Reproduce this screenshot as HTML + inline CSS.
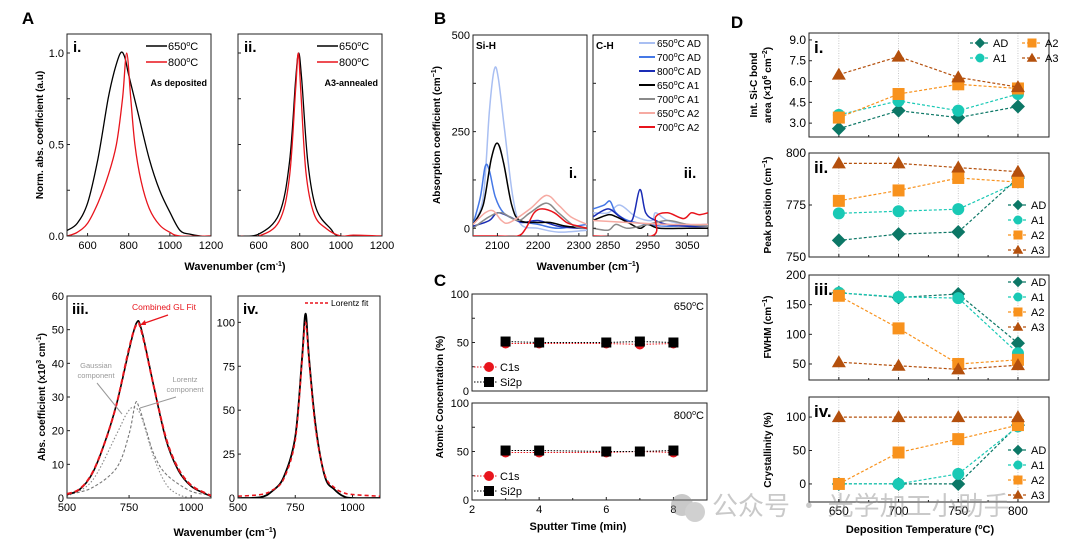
<!DOCTYPE html>
<html><head><meta charset="utf-8">
<style>
html,body{margin:0;padding:0;background:#fff;}
svg{display:block;font-family:"Liberation Sans","Noto Sans CJK SC",sans-serif;}
</style></head>
<body>
<svg id="fig" width="1080" height="547" viewBox="0 0 1080 547" xmlns="http://www.w3.org/2000/svg"></svg>
<script>
// ---------- DATA ----------
// Panel A i
const aiX650 = [500,550,600,650,700,730,760,780,800,850,900,950,1000,1050,1100,1150,1200];
const aiY650 = [0.03,0.07,0.18,0.42,0.75,0.9,1.0,0.98,0.88,0.65,0.42,0.25,0.13,0.03,0.01,0,0];
const aiX800 = [500,550,600,650,700,740,770,790,810,830,860,900,950,1000,1050,1200];
const aiY800 = [0,0.02,0.07,0.18,0.33,0.5,0.75,1.0,0.75,0.5,0.3,0.15,0.06,0.02,0,0];
// Panel A ii
const aiiX650 = [500,600,700,750,780,795,810,840,880,950,1000,1200];
const aiiY650 = [0,0.01,0.12,0.4,0.85,1.0,0.85,0.4,0.15,0.04,0,0];
const aiiX800 = [500,600,700,750,780,793,805,830,870,930,1000,1060,1200];
const aiiY800 = [0,0,0.08,0.32,0.8,1.0,0.8,0.35,0.12,0.04,0,0.005,0];
// Panel A iii
const aiiiX = [500,550,600,650,700,750,780,800,850,900,950,1000,1050,1080];
const aiiiData = [1,2.5,7,16,28,44,52,50,33,17,8,3.5,1.5,0.5];
const aiiiFit = [1.2,2.6,7.2,16,28,44.5,51.5,49.5,33,17.5,8.5,3.8,1.7,0.7];
const aiiiGX = [500,600,700,740,770,800,850,900,950,1000];
const aiiiGY = [0.5,5,19,25,27,24,12,4,1,0];
const aiiiLX = [500,600,700,750,775,790,820,850,900,1000,1080];
const aiiiLY = [1,3,9,19,28,27,20,13,7,2,1];
// Panel A iv
const aivX = [500,600,650,700,750,780,795,810,840,880,920,960,1000,1120];
const aivData = [0,0.5,4,12,35,80,105,80,40,12,5,1,0,0];
const aivFit = [1,2,4.5,11,33,78,100,78,38,13,6,3,2,1];
// Panel B
const bSeriesNames = ["650°C AD","700°C AD","800°C AD","650°C A1","700°C A1","650°C A2","700°C A2"];
const biX = [
 [2040,2065,2080,2092,2102,2118,2138,2158,2200,2250,2320],
 [2040,2058,2070,2080,2095,2115,2150,2200,2250,2320],
 [2040,2080,2100,2130,2160,2200,2250,2300,2320],
 [2040,2065,2085,2100,2115,2135,2155,2200,2230,2270,2320],
 [2040,2080,2110,2150,2180,2220,2250,2290,2320],
 [2040,2070,2090,2110,2130,2180,2220,2250,2280,2320],
 [2040,2100,2150,2170,2190,2210,2240,2270,2300,2320]];
const biY = [
 [10,80,300,410,390,250,80,10,0,-10,-5],
 [10,80,160,150,80,40,20,10,0,10],
 [5,20,40,30,15,20,5,0,0],
 [10,60,180,220,170,60,20,15,15,5,0],
 [0,30,40,20,40,65,40,5,0],
 [10,40,45,20,15,50,85,60,30,10],
 [-20,-20,-20,0,40,50,40,15,5,0]];
const biiX = [
 [2812,2850,2880,2920,2960,2970,3000,3050,3102],
 [2812,2840,2855,2870,2900,2950,3000,3102],
 [2812,2850,2880,2910,2930,2945,2970,3000,3050,3102],
 [2812,2850,2870,2900,2930,2950,2980,3050,3102],
 [2812,2850,2870,2900,2950,3000,3050,3102],
 [2812,2900,3000,3102],
 [2812,2960,2970,3000,3040,3060,3080,3102]];
const biiY = [
 [40,40,60,30,20,40,20,10,5],
 [50,60,70,40,20,10,5,10],
 [30,50,30,20,100,40,20,10,5,5],
 [20,35,30,15,0,10,0,0,0],
 [0,-5,10,0,10,20,10,5],
 [20,15,10,10],
 [-20,-20,30,40,25,40,35,40]];
// Panel C
const cTimes = [3,4,6,7,8];
const cC1s650 = [49,49,49,48,49];
const cSi2p650 = [51,50,50,51,50];
const cC1s800 = [49,49,49,50,49];
const cSi2p800 = [51,51,50,50,51];
// Panel D
const dTemps = [650,700,750,800];
const dSeries = ["AD","A1","A2","A3"];
const dArea = {AD:[2.6,3.9,3.4,4.2],A1:[3.6,4.6,3.9,5.1],A2:[3.4,5.1,5.8,5.5],A3:[6.5,7.8,6.3,5.6]};
const dPeak = {AD:[758,761,762,788],A1:[771,772,773,786],A2:[777,782,788,786],A3:[795,795,793,791]};
const dFwhm = {AD:[170,162,168,85],A1:[170,163,161,68],A2:[165,110,50,57],A3:[53,47,41,48]};
const dCryst = {AD:[0,0,0,88],A1:[0,0,15,86],A2:[0,47,67,88],A3:[100,100,100,100]};

// ---------- HELPERS ----------
const NS="http://www.w3.org/2000/svg";
const svg=document.getElementById('fig');
function mk(tag,attrs,parent){const e=document.createElementNS(NS,tag);for(const k in attrs)e.setAttribute(k,attrs[k]);(parent||svg).appendChild(e);return e;}
function txt(x,y,s,size,opts){opts=opts||{};const e=mk('text',{x:x,y:y,'font-size':size,'text-anchor':opts.anchor||'middle','font-weight':opts.bold?'bold':'normal',fill:opts.fill||'#000'},opts.parent);
 if(opts.rot) e.setAttribute('transform','rotate(-90 '+x+' '+y+')');
 e.innerHTML=s;return e;}
function scale(d0,d1,r0,r1){return v=>r0+(v-d0)/(d1-d0)*(r1-r0);}
function smoothPath(pts){if(pts.length<2)return'';let d='M'+pts[0][0].toFixed(1)+','+pts[0][1].toFixed(1);
 for(let i=0;i<pts.length-1;i++){const p0=pts[i-1]||pts[i],p1=pts[i],p2=pts[i+1],p3=pts[i+2]||p2;
  const c1=[p1[0]+(p2[0]-p0[0])/6,p1[1]+(p2[1]-p0[1])/6],c2=[p2[0]-(p3[0]-p1[0])/6,p2[1]-(p3[1]-p1[1])/6];
  d+=' C'+c1[0].toFixed(1)+','+c1[1].toFixed(1)+' '+c2[0].toFixed(1)+','+c2[1].toFixed(1)+' '+p2[0].toFixed(1)+','+p2[1].toFixed(1);}
 return d;}
function box(x0,y0,x1,y1,name){const r=mk('rect',{x:x0,y:y0,width:x1-x0,height:y1-y0,fill:'none',stroke:'#222','stroke-width':1});
 
 return r;}
function clip(id,x0,y0,x1,y1){const c=mk('clipPath',{id:id});mk('rect',{x:x0,y:y0,width:x1-x0,height:y1-y0},c);}
function curve(xs,ys,sx,sy,style,name,clipId){const pts=xs.map((x,i)=>[sx(x),sy(ys[i])]);
 const p=mk('path',Object.assign({d:smoothPath(pts),fill:'none'},style));if(clipId)p.setAttribute('clip-path','url(#'+clipId+')');
 
 return p;}
function xticks(vals,sx,yb,labels,size,name){vals.forEach((v,i)=>{mk('line',{x1:sx(v),x2:sx(v),y1:yb,y2:yb-3,stroke:'#222'});
 const t=txt(sx(v),yb+13,labels?labels[i]:v,size||11);});}
function yticks(vals,sy,xl,labels,size,name){vals.forEach((v,i)=>{mk('line',{x1:xl,x2:xl+3,y1:sy(v),y2:sy(v),stroke:'#222'});
 if(labels){const t=txt(xl-3,sy(v)+4,labels[i],size||11,{anchor:'end'});}});}

// ---------- PANEL LETTERS ----------
[['A',28,24],['B',440,24],['C',440,286],['D',737,28]].forEach(l=>{const t=txt(l[1],l[2],l[0],17,{bold:true});
 });

// ---------- PANEL A i / ii ----------
(function(){
 const y0=34,y1=236;
 const syA=v=>236-(v/1.0)*(236-53);
 [[67,211,'a-i'],[238,382,'a-ii']].forEach(([x0,x1,id],k)=>{
  const sx=scale(500,1200,x0,x1);clip(id,x0,y0,x1,y1);
  box(x0,y0,x1,y1,'panel-'+id+'-frame');
  if(k==0){curve(aiX650,aiY650,sx,syA,{stroke:'#000','stroke-width':1.3},'curve-650c',id);curve(aiX800,aiY800,sx,syA,{stroke:'#e8141c','stroke-width':1.3},'curve-800c',id);}
  else{curve(aiiX650,aiiY650,sx,syA,{stroke:'#000','stroke-width':1.3},'curve-650c',id);curve(aiiX800,aiiY800,sx,syA,{stroke:'#e8141c','stroke-width':1.3},'curve-800c',id);}
  xticks([600,800,1000,1200],sx,y1,null,11);
  yticks([0,0.5,1.0],syA,x0,k==0?['0.0','0.5','1.0']:null,11);
  yticks([0.25,0.75],syA,x0,null);
  txt(x0+6,y0+18,k==0?'i.':'ii.',15,{bold:true,anchor:'start'});
  mk('line',{x1:x0+79,x2:x0+100,y1:46,y2:46,stroke:'#000','stroke-width':1.5});
  txt(x0+101,50,'650<tspan dy="-4" font-size="7">o</tspan><tspan dy="4">C</tspan>',11,{anchor:'start'});
  mk('line',{x1:x0+79,x2:x0+100,y1:62,y2:62,stroke:'#e8141c','stroke-width':1.5});
  txt(x0+101,66,'800<tspan dy="-4" font-size="7">o</tspan><tspan dy="4">C</tspan>',11,{anchor:'start'});
  txt(x0+140,86,k==0?'As deposited':'A3-annealed',9,{bold:true,anchor:'end'});
 });
 const t=txt(43,135,'Norm. abs. coefficient (a.u)',10,{bold:true,rot:true});
 const t2=txt(235,270,'Wavenumber (cm<tspan dy="-4" font-size="7">-1</tspan><tspan dy="4">)</tspan>',11,{bold:true});
})();

// ---------- PANEL A iii / iv ----------
(function(){
 const y0=296,y1=498;
 let sx=scale(500,1080,67,211), sy=scale(0,60,y1,y0);clip('a3',67,y0,211,y1);
 box(67,y0,211,y1,'panel-a-iii-frame');
 curve(aiiiGX,aiiiGY,sx,sy,{stroke:'#888','stroke-width':1.1,'stroke-dasharray':'1.5,2'},'gaussian-component','a3');
 curve(aiiiLX,aiiiLY,sx,sy,{stroke:'#777','stroke-width':1.1,'stroke-dasharray':'3,2'},'lorentz-component','a3');
 curve(aiiiX,aiiiData,sx,sy,{stroke:'#000','stroke-width':1.6},'measured-spectrum','a3');
 curve(aiiiX,aiiiFit,sx,sy,{stroke:'#e8141c','stroke-width':2,'stroke-dasharray':'5,3'},'combined-gl-fit','a3');
 xticks([500,750,1000],sx,y1,null,11);
 yticks([0,10,20,30,40,50,60],sy,67,['0','10','20','30','40','50','60'],11);
 txt(72,314,'iii.',15,{bold:true,anchor:'start'});
 txt(164,310,'Combined GL Fit',8.5,{fill:'#e8141c'});
 mk('line',{x1:168,x2:142,y1:315,y2:324,stroke:'#e8141c','stroke-width':1.2});
 mk('path',{d:'M140,325 l5,-5 l1,5 z',fill:'#e8141c'});
 txt(96,368,'Gaussian',7.5,{fill:'#999'});txt(96,378,'component',7.5,{fill:'#999'});
 mk('line',{x1:97,x2:122,y1:383,y2:414,stroke:'#999'});
 txt(185,382,'Lorentz',7.5,{fill:'#999'});txt(185,392,'component',7.5,{fill:'#999'});
 mk('line',{x1:176,x2:140,y1:397,y2:408,stroke:'#999'});
 const t=txt(45,397,'Abs. coefficient (x10<tspan dy="-4" font-size="7">3</tspan><tspan dy="4"> cm</tspan><tspan dy="-4" font-size="7">-1</tspan><tspan dy="4">)</tspan>',10,{bold:true,rot:true});
 sx=scale(500,1120,238,380); sy=scale(0,115,y1,y0);clip('a4',238,y0,380,y1);
 box(238,y0,380,y1,'panel-a-iv-frame');
 curve(aivX,aivData,sx,sy,{stroke:'#000','stroke-width':1.8},'measured-spectrum','a4');
 curve(aivX,aivFit,sx,sy,{stroke:'#e8141c','stroke-width':1.6,'stroke-dasharray':'4,3'},'lorentz-fit','a4');
 xticks([500,750,1000],sx,y1,null,11);
 yticks([0,25,50,75,100],sy,238,['0','25','50','75','100'],11);
 txt(243,314,'iv.',15,{bold:true,anchor:'start'});
 mk('line',{x1:305,x2:328,y1:303,y2:303,stroke:'#e8141c','stroke-width':1.5,'stroke-dasharray':'3,2'});
 txt(331,306,'Lorentz fit',8.5,{anchor:'start'});
 const t2=txt(225,536,'Wavenumber (cm<tspan dy="-4" font-size="7">−1</tspan><tspan dy="4">)</tspan>',11,{bold:true});
})();

// ---------- PANEL B ----------
(function(){
 const colors=['#a9bff2','#4578e6','#1a2cb5','#000','#8a8a8a','#f6aaa2','#e8141c'];
 const y0=35,y1=236;const sy=scale(-20,500,y1,y0);
 const sxi=scale(2040,2320,473,587), sxii=scale(2812,3102,593,708);
 clip('b1',473,y0,587,y1);clip('b2',593,y0,708,y1);
 box(473,y0,587,y1,'panel-b-i-frame');box(593,y0,708,y1,'panel-b-ii-frame');
 bSeriesNames.forEach((n,i)=>{
  curve(biX[i],biY[i],sxi,sy,{stroke:colors[i],'stroke-width':1.5},'si-h-'+n.replace(/[^0-9A-Za-z]/g,'').toLowerCase(),'b1');
  curve(biiX[i],biiY[i],sxii,sy,{stroke:colors[i],'stroke-width':1.5},'c-h-'+n.replace(/[^0-9A-Za-z]/g,'').toLowerCase(),'b2');
  mk('line',{x1:639,x2:655,y1:43+i*14,y2:43+i*14,stroke:colors[i],'stroke-width':2});
  const t=txt(657,47+i*14,n.replace('°C','<tspan dy="-4" font-size="7">o</tspan><tspan dy="4">C</tspan>'),10,{anchor:'start'});
  
 });
 xticks([2100,2200,2300],sxi,y1,null,11);xticks([2850,2950,3050],sxii,y1,null,11);
 yticks([0,250,500],sy,473,['0','250','500'],11);yticks([125,375],sy,473,null);
 yticks([0,125,250,375,500],sy,593,null);
 txt(476,49,'Si-H',10,{bold:true,anchor:'start'});txt(596,49,'C-H',10,{bold:true,anchor:'start'});
 txt(573,178,'i.',15,{bold:true,anchor:'middle'});txt(690,178,'ii.',15,{bold:true,anchor:'middle'});
 const t=txt(440,135,'Absorption coefficient (cm<tspan dy="-4" font-size="7">−1</tspan><tspan dy="4">)</tspan>',10,{bold:true,rot:true});
 const t2=txt(588,270,'Wavenumber (cm<tspan dy="-4" font-size="7">−1</tspan><tspan dy="4">)</tspan>',11,{bold:true});
})();

// ---------- PANEL C ----------
(function(){
 const sx=scale(2,9,472,707);
 [[294,391,cC1s650,cSi2p650,'650'],[403,500,cC1s800,cSi2p800,'800']].forEach(([y0,y1,c,s,T])=>{
  const sy=scale(0,100,y1,y0);
  box(472,y0,707,y1,'panel-c-'+T+'-frame');
  yticks([0,50,100],sy,472,['0','50','100'],11);yticks([25,75],sy,472,null);
  const lc=c.map((v,i)=>(i?'L':'M')+sx(cTimes[i]).toFixed(1)+','+sy(v).toFixed(1)).join('');
  const ls=s.map((v,i)=>(i?'L':'M')+sx(cTimes[i]).toFixed(1)+','+sy(v).toFixed(1)).join('');
  mk('path',{d:lc,fill:'none',stroke:'#e8141c','stroke-dasharray':'1.5,1.5'});
  mk('path',{d:ls,fill:'none',stroke:'#000','stroke-dasharray':'1.5,1.5'});
  cTimes.forEach((t,i)=>{const e=mk('circle',{cx:sx(t),cy:sy(c[i]),r:5,fill:'#e8141c'});
   
   const r=mk('rect',{x:sx(t)-5,y:sy(s[i])-5,width:10,height:10,fill:'#000'});
   });
  txt(704,y0+16,T+'<tspan dy="-4" font-size="7">o</tspan><tspan dy="4">C</tspan>',11,{anchor:'end'});
  mk('line',{x1:474,x2:498,y1:y0+73,y2:y0+73,stroke:'#e8141c','stroke-dasharray':'1.5,1.5'});
  mk('circle',{cx:489,cy:y0+73,r:5,fill:'#e8141c'});txt(500,y0+77,'C1s',11,{anchor:'start'});
  mk('line',{x1:474,x2:498,y1:y0+88,y2:y0+88,stroke:'#000','stroke-dasharray':'1.5,1.5'});
  mk('rect',{x:484,y:y0+83,width:10,height:10,fill:'#000'});txt(500,y0+92,'Si2p',11,{anchor:'start'});
 });
 xticks([2,4,6,8],sx,500,null,11);
 [3,5,7].forEach(v=>mk('line',{x1:sx(v),x2:sx(v),y1:500,y2:498,stroke:'#222'}));
 const t=txt(443,397,'Atomic Concentration (%)',10,{bold:true,rot:true});
 const t2=txt(578,530,'Sputter Time (min)',11,{bold:true});
})();

// ---------- PANEL D ----------
(function(){
 const col={AD:'#0c7766',A1:'#19c9b5',A2:'#f8921d',A3:'#b4500d'};
 const sx=scale(625,826,809,1049);
 function marker(s,x,y){
  if(s=='AD')return mk('path',{d:`M${x},${y-7}L${x+7},${y}L${x},${y+7}L${x-7},${y}Z`,fill:col[s]});
  if(s=='A1')return mk('circle',{cx:x,cy:y,r:6,fill:col[s]});
  if(s=='A2')return mk('rect',{x:x-6,y:y-6,width:12,height:12,fill:col[s]});
  return mk('path',{d:`M${x},${y-7}L${x+7},${y+5}L${x-7},${y+5}Z`,fill:col[s]});
 }
 function legendItem(s,x,y){mk('line',{x1:x-10,x2:x+10,y1:y,y2:y,stroke:col[s],'stroke-width':1.2,'stroke-dasharray':'3,2'});
  const m=marker(s,x,y);m.setAttribute('transform',`translate(${x},${y}) scale(0.75) translate(${-x},${-y})`);
  const t=txt(x+13,y+4,s,11,{anchor:'start'});}
 const panels=[
  {y0:33,y1:137,d0:2.0,d1:9.5,data:dArea,ticks:[3.0,4.5,6.0,7.5,9.0],labels:['3.0','4.5','6.0','7.5','9.0'],lab:'i.',id:'i'},
  {y0:153,y1:257,d0:750,d1:800,data:dPeak,ticks:[750,775,800],labels:['750','775','800'],lab:'ii.',id:'ii'},
  {y0:275,y1:380,d0:23,d1:200,data:dFwhm,ticks:[50,100,150,200],labels:['50','100','150','200'],lab:'iii.',id:'iii'},
  {y0:397,y1:502,d0:-27,d1:130,data:dCryst,ticks:[0,50,100],labels:['0','50','100'],lab:'iv.',id:'iv'}];
 panels.forEach((p,pi)=>{
  const sy=scale(p.d0,p.d1,p.y1,p.y0);
  dTemps.forEach(t=>mk('line',{x1:sx(t),x2:sx(t),y1:p.y0,y2:p.y1,stroke:'#bbb','stroke-width':0.8,'stroke-dasharray':'1,1.5'}));
  box(809,p.y0,1049,p.y1,'panel-d-'+p.id+'-frame');
  yticks(p.ticks,sy,809,p.labels,12);
  [675,725,775].forEach(v=>mk('line',{x1:sx(v),x2:sx(v),y1:p.y1,y2:p.y1-2,stroke:'#222'}));
  dTemps.forEach(t=>mk('line',{x1:sx(t),x2:sx(t),y1:p.y1,y2:p.y1-3,stroke:'#222'}));
  dSeries.forEach(s=>{
   const vals=p.data[s];
   const d=vals.map((v,i)=>(i?'L':'M')+sx(dTemps[i]).toFixed(1)+','+sy(v).toFixed(1)).join('');
   const ln=mk('path',{d:d,fill:'none',stroke:col[s],'stroke-width':1.2,'stroke-dasharray':'3,2'});
   
   
   vals.forEach((v,i)=>{const m=marker(s,sx(dTemps[i]),sy(v));
    
    });
  });
  txt(814,p.y0+20,p.lab,17,{bold:true,anchor:'start'});
  if(pi==0){legendItem('AD',980,43);legendItem('A2',1032,43);legendItem('A1',980,58);legendItem('A3',1032,58);}
  else{const base=[0,205,282,450][pi];dSeries.forEach((s,i)=>legendItem(s,1018,base+i*15));}
 });
 xticks(dTemps,sx,502,null,12);
 let t=txt(757,85,'Int. Si-C bond',10,{bold:true,rot:true});
 t=txt(771,85,'area (×10<tspan dy="-4" font-size="7">6</tspan><tspan dy="4"> cm</tspan><tspan dy="-4" font-size="7">−2</tspan><tspan dy="4">)</tspan>',10,{bold:true,rot:true});
 t=txt(771,205,'Peak position (cm<tspan dy="-4" font-size="7">−1</tspan><tspan dy="4">)</tspan>',10,{bold:true,rot:true});
 t=txt(771,327,'FWHM (cm<tspan dy="-4" font-size="7">−1</tspan><tspan dy="4">)</tspan>',10,{bold:true,rot:true});
 t=txt(771,450,'Crystallinity (%)',10,{bold:true,rot:true});
 t=txt(920,533,'Deposition Temperature (<tspan dy="-4" font-size="7">o</tspan><tspan dy="4">C)</tspan>',11,{bold:true});
})();

// watermark
(function(){
 const g=mk('g',{opacity:0.45});
 
 
 mk('circle',{cx:682,cy:505,r:11,fill:'#888'},g);mk('circle',{cx:695,cy:512,r:10,fill:'#999'},g);
 const t=mk('text',{x:712,y:515,'font-size':26,fill:'#888','font-family':'"Noto Sans CJK SC",sans-serif'},g);
 t.textContent='公众号 · 光学加工小助手';
})();
</script>
</body></html>
